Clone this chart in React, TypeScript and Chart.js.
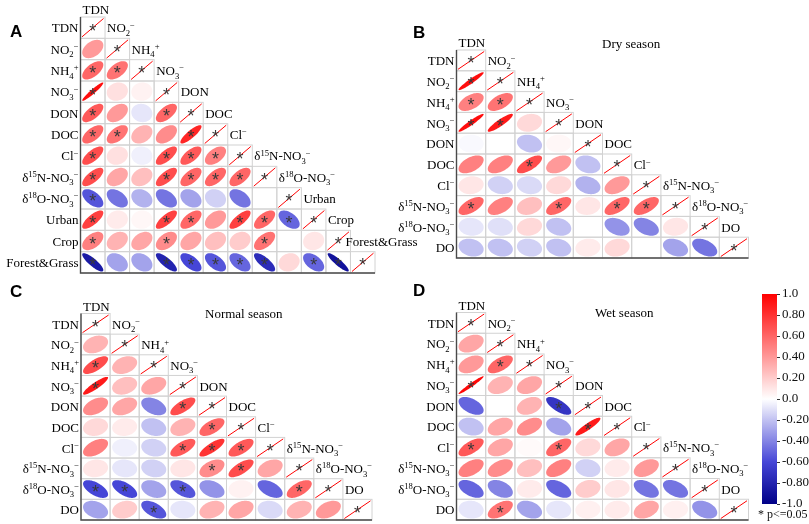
import React, { useEffect, useRef } from "react";
import { Chart, registerables } from "chart.js";
Chart.register(...registerables);

// ---------------- DATA ----------------
const labelsA = ["TDN", "NO_{2}^{−}", "NH_{4}^{+}", "NO_{3}^{−}", "DON", "DOC", "Cl^{−}", "δ^{15}N-NO_{3}^{−}", "δ^{18}O-NO_{3}^{−}", "Urban", "Crop", "Forest&Grass"];
const labelsSeason = ["TDN", "NO_{2}^{−}", "NH_{4}^{+}", "NO_{3}^{−}", "DON", "DOC", "Cl^{−}", "δ^{15}N-NO_{3}^{−}", "δ^{18}O-NO_{3}^{−}", "DO"];

// lower triangle, rows start at the 2nd variable
const corrA = [
  [0.40],
  [0.60, 0.55],
  [0.95, 0.12, 0.05],
  [0.65, 0.40, -0.08, 0.60],
  [0.60, 0.55, 0.30, 0.45, 0.85],
  [0.70, 0.12, -0.05, 0.70, 0.65, 0.50],
  [0.70, 0.35, 0.25, 0.70, 0.60, 0.60, 0.60],
  [-0.55, -0.45, -0.25, -0.45, -0.30, -0.15, -0.45, 0.0],
  [0.75, 0.08, 0.03, 0.75, 0.60, 0.40, 0.75, 0.60, -0.50],
  [0.50, 0.30, 0.35, 0.45, 0.35, 0.25, 0.20, 0.55, 0.0, 0.10],
  [-0.85, -0.30, -0.30, -0.80, -0.60, -0.55, -0.50, -0.75, 0.15, -0.50, -0.90],
];
const sigA = [
  [0],
  [1, 1],
  [1, 0, 0],
  [1, 0, 0, 1],
  [1, 1, 0, 0, 1],
  [1, 0, 0, 1, 1, 1],
  [1, 0, 0, 1, 1, 1, 1],
  [1, 0, 0, 0, 0, 0, 0, 0],
  [1, 0, 0, 1, 1, 0, 1, 1, 1],
  [1, 0, 0, 1, 0, 0, 0, 1, 0, 0],
  [1, 0, 0, 1, 1, 1, 1, 1, 0, 1, 1],
];

const corrDry = [
  [0.95],
  [0.50, 0.55],
  [0.95, 0.90, 0.15],
  [-0.02, 0.0, -0.20, 0.03],
  [0.50, 0.50, 0.70, 0.40, -0.20],
  [0.10, -0.15, -0.12, 0.15, -0.25, 0.40],
  [0.60, 0.50, 0.25, 0.60, 0.10, 0.60, 0.60],
  [-0.08, -0.10, 0.15, -0.20, 0.0, -0.35, -0.40, 0.10],
  [-0.20, -0.20, -0.15, -0.20, 0.08, 0.15, 0.0, -0.30, -0.45],
];
const sigDry = [
  [1],
  [1, 1],
  [1, 1, 0],
  [0, 0, 0, 0],
  [0, 0, 1, 0, 0],
  [0, 0, 0, 0, 0, 0],
  [1, 0, 0, 1, 0, 1, 1],
  [0, 0, 0, 0, 0, 0, 0, 0],
  [0, 0, 0, 0, 0, 0, 0, 0, 0],
];

const corrNormal = [
  [0.30],
  [0.70, 0.30],
  [0.90, 0.25, 0.35],
  [0.45, 0.35, -0.40, 0.70],
  [0.15, 0.08, -0.20, 0.30, 0.60],
  [0.50, -0.05, -0.15, 0.65, 0.80, 0.65],
  [0.10, -0.08, -0.15, 0.10, 0.45, 0.70, 0.35],
  [-0.60, -0.60, -0.30, -0.55, -0.35, 0.05, -0.50, 0.60],
  [-0.30, 0.20, -0.55, -0.08, 0.30, 0.35, -0.12, 0.30, 0.40],
];
const sigNormal = [
  [0],
  [1, 0],
  [1, 0, 0],
  [0, 0, 0, 1],
  [0, 0, 0, 0, 1],
  [0, 0, 0, 1, 1, 1],
  [0, 0, 0, 0, 1, 1, 0],
  [1, 1, 0, 1, 0, 0, 0, 1],
  [0, 0, 1, 0, 0, 0, 0, 0, 0],
];

const corrWet = [
  [0.35],
  [0.40, 0.60],
  [0.97, 0.30, 0.35],
  [-0.50, 0.0, 0.30, -0.70],
  [-0.20, 0.35, 0.45, -0.30, 0.90],
  [0.65, 0.35, 0.02, 0.60, 0.15, 0.35],
  [0.50, 0.45, 0.25, 0.50, -0.15, 0.08, 0.40],
  [-0.50, -0.40, 0.08, -0.50, 0.20, 0.10, -0.45, -0.45],
  [-0.08, 0.55, -0.30, -0.08, 0.06, 0.08, 0.35, 0.06, -0.35],
];
const sigWet = [
  [0],
  [0, 1],
  [1, 0, 0],
  [0, 0, 0, 1],
  [0, 0, 0, 0, 1],
  [1, 0, 0, 1, 0, 0],
  [0, 0, 0, 0, 0, 0, 0],
  [0, 0, 0, 0, 0, 0, 0, 0],
  [0, 1, 0, 0, 0, 0, 0, 0, 0],
];

const panelLetters = ["A", "B", "C", "D"];
const panelTitles = ["", "Dry season", "Normal season", "Wet season"];

const cbTicks = [1.0, 0.8, 0.6, 0.4, 0.2, 0.0, -0.2, -0.4, -0.6, -0.8, -1.0];
const cbTickLabels = ["1.0", "0.80", "0.60", "0.40", "0.20", "0.0", "-0.20", "-0.40", "-0.60", "-0.80", "-1.0"];
const sigNote = "* p<=0.05";

// ---------------- STYLE / LAYOUT ----------------
const W = 809, H = 524;
const SERIF = "'Liberation Serif', 'Times New Roman', serif";
const SANS = "'Liberation Sans', Arial, sans-serif";
const FS = 13;

const cmapStops = [-1, -0.6, 0, 1];
const cmapColors = [[0, 0, 135], [70, 70, 215], [255, 255, 255], [255, 0, 0]];

function cmap(v: number) {
  const x = Math.max(-1, Math.min(1, v));
  for (let i = 0; i < cmapStops.length - 1; i++) {
    if (x >= cmapStops[i] && x <= cmapStops[i + 1]) {
      const f = (x - cmapStops[i]) / (cmapStops[i + 1] - cmapStops[i]);
      const a = cmapColors[i], b = cmapColors[i + 1];
      const c = a.map((av, k) => Math.round(av + (b[k] - av) * f));
      return `rgb(${c[0]},${c[1]},${c[2]})`;
    }
  }
  return "#fff";
}

type Layout = {
  left: number; top: number; right: number; bottom: number;
  letter: [number, number]; title?: [number, number]; headerShift?: Record<number, number>;
};

const layouts: Layout[] = [
  { left: 80.5, top: 17, right: 375, bottom: 273, letter: [10, 37], headerShift: { 11: -7 } },
  { left: 456.5, top: 50, right: 748.5, bottom: 258, letter: [413, 38], title: [602, 48] },
  { left: 81, top: 313.5, right: 372, bottom: 520, letter: [10, 297], title: [205, 318] },
  { left: 456.5, top: 312.5, right: 748.5, bottom: 520, letter: [413, 296], title: [595, 317] },
];

// ---------------- TEXT HELPERS ----------------
type Seg = { t: string; k: "n" | "sub" | "sup" };
function parseLabel(s: string): Seg[] {
  const segs: Seg[] = [];
  const re = /([_^])\{([^}]*)\}|([^_^]+)/g;
  let m: RegExpExecArray | null;
  while ((m = re.exec(s))) {
    if (m[3]) segs.push({ t: m[3], k: "n" });
    else segs.push({ t: m[2], k: m[1] === "_" ? "sub" : "sup" });
  }
  return segs;
}
function segFont(k: string, size: number) {
  return `${k === "n" ? size : (size * 0.66).toFixed(1)}px ${SERIF}`;
}
function drawRich(ctx: CanvasRenderingContext2D, text: string, x: number, y: number, size: number, align: "left" | "right") {
  const segs = parseLabel(text);
  let w = 0;
  for (const s of segs) { ctx.font = segFont(s.k, size); w += ctx.measureText(s.t).width; }
  let cx = align === "right" ? x - w : x;
  ctx.textAlign = "left";
  ctx.textBaseline = "alphabetic";
  for (const s of segs) {
    ctx.font = segFont(s.k, size);
    const dy = s.k === "sub" ? size * 0.26 : s.k === "sup" ? -size * 0.36 : 0;
    ctx.fillText(s.t, cx, y + dy);
    cx += ctx.measureText(s.t).width;
  }
}

// ---------------- PANEL CHART ----------------
function buildPanel(idx: number, labels: string[], corr: number[][], sig: number[][]) {
  const L = layouts[idx];
  const n = labels.length;
  const points: { x: number; y: number }[] = [];
  const vals: number[] = [];
  const sigs: number[] = [];
  for (let i = 0; i < n; i++) {
    for (let j = 0; j <= i; j++) {
      points.push({ x: j, y: i });
      if (i === j) { vals.push(1); sigs.push(1); }
      else { vals.push(corr[i - 1][j]); sigs.push(sig[i - 1][j]); }
    }
  }
  const plugin = {
    id: "corrDraw" + idx,
    afterDatasetsDraw(chart: any) {
      const ctx: CanvasRenderingContext2D = chart.ctx;
      const xs = chart.scales.x, ys = chart.scales.y;
      const w = xs.getPixelForValue(1) - xs.getPixelForValue(0);
      const h = ys.getPixelForValue(1) - ys.getPixelForValue(0);
      const meta = chart.getDatasetMeta(0);
      const els = meta.data;
      const area = chart.chartArea;
      ctx.save();
      // cell borders
      ctx.strokeStyle = "#d2d2d2";
      ctx.lineWidth = 1;
      els.forEach((el: any) => {
        ctx.strokeRect(el.x - w / 2, el.y - h / 2, w, h);
      });
      // ellipses / diagonal
      const k = 0.86;
      els.forEach((el: any, i: number) => {
        const p = points[i];
        const cx = el.x, cy = el.y;
        if (p.x === p.y) {
          ctx.strokeStyle = "#ff0000";
          ctx.lineWidth = 1;
          ctx.beginPath();
          ctx.moveTo(cx - w / 2 + 1.5, cy + h / 2 - 1.5);
          ctx.lineTo(cx + w / 2 - 1.5, cy - h / 2 + 1.5);
          ctx.stroke();
        } else {
          const r = vals[i];
          const d = Math.acos(Math.max(-1, Math.min(1, r)));
          ctx.fillStyle = cmap(r);
          ctx.beginPath();
          for (let t = 0; t <= 72; t++) {
            const a = (t / 72) * Math.PI * 2;
            const ex = Math.cos(a + d / 2), ey = Math.cos(a - d / 2);
            const X = cx + ex * (w / 2) * k, Y = cy - ey * (h / 2) * k;
            if (t === 0) ctx.moveTo(X, Y); else ctx.lineTo(X, Y);
          }
          ctx.closePath();
          ctx.fill();
        }
      });
      // stars
      ctx.fillStyle = "#3a3a3a";
      ctx.font = `18px ${SANS}`;
      ctx.textAlign = "center";
      ctx.textBaseline = "alphabetic";
      const m = ctx.measureText("*");
      const off = (m.actualBoundingBoxAscent - m.actualBoundingBoxDescent) / 2;
      els.forEach((el: any, i: number) => {
        if (sigs[i]) ctx.fillText("*", el.x, el.y + off - 0.5);
      });
      // axis lines
      ctx.strokeStyle = "#4a4a4a";
      ctx.lineWidth = 1.4;
      ctx.beginPath();
      ctx.moveTo(area.left, area.top);
      ctx.lineTo(area.left, area.bottom);
      ctx.lineTo(area.right, area.bottom);
      ctx.stroke();
      // labels
      ctx.fillStyle = "#000";
      for (let i = 0; i < n; i++) {
        const cy = ys.getPixelForValue(i);
        drawRich(ctx, labels[i], area.left - 2, cy + 4.8, FS, "right");
        const shift = (L.headerShift && L.headerShift[i]) || 0;
        const hx = xs.getPixelForValue(i) - w / 2 + 2 + shift;
        const hy = i === 0 ? area.top - 3 : ys.getPixelForValue(i - 1) + 4.8;
        drawRich(ctx, labels[i], hx, hy, FS, "left");
      }
      if (L.title && panelTitles[idx]) {
        ctx.font = `${FS}px ${SERIF}`;
        ctx.textAlign = "left";
        ctx.fillText(panelTitles[idx], L.title[0], L.title[1]);
      }
      ctx.font = `bold 17px ${SANS}`;
      ctx.textAlign = "left";
      ctx.fillText(panelLetters[idx], L.letter[0], L.letter[1]);
      ctx.restore();
    },
  };
  return {
    type: "scatter" as const,
    data: { datasets: [{ data: points, pointRadius: 0, pointHoverRadius: 0, showLine: false }] },
    options: {
      responsive: false,
      animation: false as const,
      events: [] as any[],
      layout: { padding: { left: L.left, top: L.top, right: W - L.right, bottom: H - L.bottom } },
      plugins: { legend: { display: false }, tooltip: { enabled: false }, title: { display: false } },
      scales: {
        x: { type: "linear" as const, display: false, min: -0.5, max: n - 0.5 },
        y: { type: "linear" as const, display: false, min: -0.5, max: n - 0.5, reverse: true },
      },
    },
    plugins: [plugin],
  };
}

function buildColorbar() {
  const plugin = {
    id: "cbDraw",
    beforeDatasetsDraw(chart: any) {
      const ctx: CanvasRenderingContext2D = chart.ctx;
      const a = chart.chartArea;
      const ys = chart.scales.y;
      const g = ctx.createLinearGradient(0, a.top, 0, a.bottom);
      for (let v = 1; v >= -1.0001; v -= 0.05) {
        const pos = (ys.getPixelForValue(v) - a.top) / (a.bottom - a.top);
        g.addColorStop(Math.max(0, Math.min(1, pos)), cmap(v));
      }
      ctx.save();
      ctx.fillStyle = g;
      ctx.fillRect(a.left, a.top, a.right - a.left, a.bottom - a.top);
      ctx.fillStyle = "#111";
      ctx.font = `12px ${SERIF}`;
      ctx.textAlign = "left";
      ctx.textBaseline = "alphabetic";
      ctx.fillText(sigNote, 758, 518);
      ctx.restore();
    },
  };
  return {
    type: "scatter" as const,
    data: { datasets: [{ data: [] as any[] }] },
    options: {
      responsive: false,
      animation: false as const,
      events: [] as any[],
      layout: { padding: { left: 762, top: 294, right: 0, bottom: 20 } },
      plugins: { legend: { display: false }, tooltip: { enabled: false } },
      scales: {
        x: { type: "linear" as const, display: false, min: 0, max: 1 },
        y: {
          type: "linear" as const,
          position: "right" as const,
          min: -1,
          max: 1,
          afterBuildTicks: (s: any) => { s.ticks = cbTicks.map((v) => ({ value: v })); },
          afterFit: (s: any) => { s.width = 32; },
          ticks: {
            autoSkip: false,
            padding: 2,
            color: "#111",
            font: { family: SERIF, size: 13 },
            callback: (_v: any, i: number) => cbTickLabels[i],
          },
          grid: { drawOnChartArea: false, drawTicks: true, tickLength: 3, color: "#333", lineWidth: 1 },
          border: { display: false },
        },
      },
    },
    plugins: [plugin],
  };
}

function ChartCanvas({ make }: { make: () => any }) {
  const ref = useRef<HTMLCanvasElement | null>(null);
  useEffect(() => {
    if (!ref.current) return;
    const chart = new Chart(ref.current, make());
    return () => chart.destroy();
  }, []);
  return (
    <canvas
      ref={ref}
      width={W}
      height={H}
      style={{ position: "absolute", left: 0, top: 0, width: W, height: H }}
    />
  );
}

export default function App() {
  return (
    <div style={{ position: "absolute", left: 0, top: 0, width: W, height: H, background: "#fff", overflow: "hidden" }}>
      <ChartCanvas make={() => buildPanel(0, labelsA, corrA, sigA)} />
      <ChartCanvas make={() => buildPanel(1, labelsSeason, corrDry, sigDry)} />
      <ChartCanvas make={() => buildPanel(2, labelsSeason, corrNormal, sigNormal)} />
      <ChartCanvas make={() => buildPanel(3, labelsSeason, corrWet, sigWet)} />
      <ChartCanvas make={buildColorbar} />
    </div>
  );
}
